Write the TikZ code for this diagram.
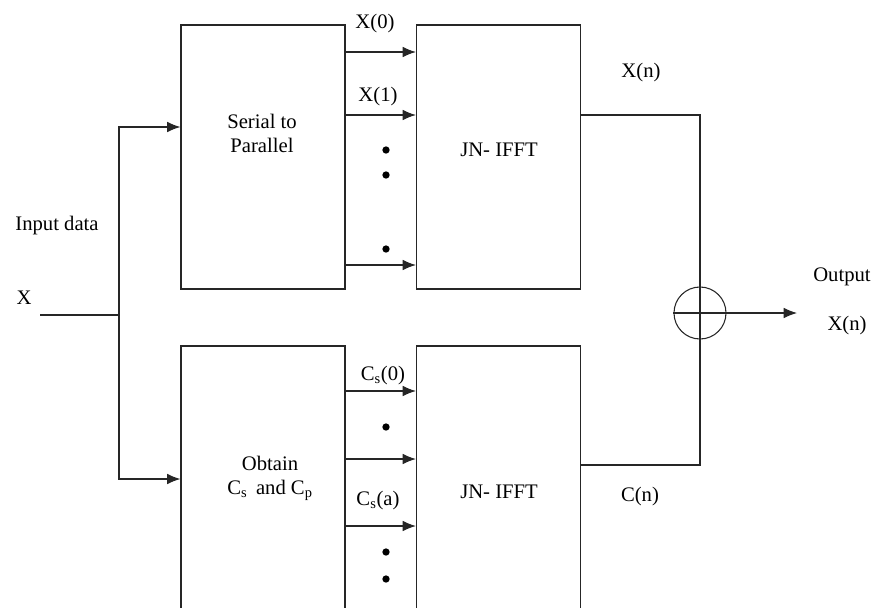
\documentclass[tikz,border=0pt]{standalone}
\usepackage{fontspec}
\setmainfont{Liberation Serif}
\usetikzlibrary{arrows.meta}
\begin{document}
\begin{tikzpicture}[x=0.75pt,y=-0.75pt,
  ln/.style={line width=0.8pt,draw=black!85},
  arr/.style={ln,-{Latex[length=10pt,width=8pt]}},
  blk/.style={draw=black!85,line width=0.9pt,minimum width=123pt,inner sep=0pt},
  lbl/.style={font=\fontsize{15.5}{18}\selectfont,inner sep=1pt},
  dotc/.style={fill=black,circle,inner sep=0pt,minimum size=5.5pt}]
\useasboundingbox (0,0) rectangle (874,607);
\clip (0,0) rectangle (874,607);
% blocks
\node[blk,minimum height=198pt] (s2p) at (263,157) {};
\node[blk,minimum height=198pt] (fft1) at (498.5,157) {};
\node[blk,minimum height=205.5pt] (obt) at (263,483) {};
\node[blk,minimum height=205.5pt] (fft2) at (498.5,483) {};
\node[lbl,align=center] (s2pt) at (262,133) {Serial to\\Parallel};
\node[lbl] (fft1t) at (499,150) {JN- IFFT};
\node[lbl,align=center] (obtt) at (270,478) {Obtain\\C\textsubscript{s}\, and C\textsubscript{p}};
\node[lbl] (fft2t) at (499,492) {JN- IFFT};
% input
\node[lbl] (xlab) at (24,298) {X};
\node[lbl] (inlab) at (57,226) {Input data};
\coordinate (xin) at (40,315);
\coordinate (split) at (119,315);
\draw[ln] (xin) -- (split);
\draw[arr] (split) |- (s2p.west |- 0,127);
\draw[arr] (split) |- (obt.west |- 0,479);
% top parallel lines
\draw[arr] (s2p.east |- 0,52) -- (fft1.west |- 0,52);
\draw[arr] (s2p.east |- 0,115) -- (fft1.west |- 0,115);
\draw[arr] (s2p.east |- 0,265) -- (fft1.west |- 0,265);
\node[lbl] (x0) at (375,24) {X(0)};
\node[lbl] (x1) at (378,97) {X(1)};
\node[dotc] (d1) at (386,150) {};
\node[dotc] (d2) at (386,175) {};
\node[dotc] (d3) at (386,249) {};
% bottom parallel lines
\draw[arr] (obt.east |- 0,391) -- (fft2.west |- 0,391);
\draw[arr] (obt.east |- 0,459) -- (fft2.west |- 0,459);
\draw[arr] (obt.east |- 0,526) -- (fft2.west |- 0,526);
\node[lbl] (c0) at (383,376) {C\textsubscript{s}(0)};
\node[lbl] (ca) at (378,501) {C\textsubscript{s}(a)};
\node[dotc] (d4) at (386,427) {};
\node[dotc] (d5) at (386,552) {};
\node[dotc] (d6) at (386,579) {};
% sum
\node[circle,draw=black!85,line width=0.8pt,minimum size=39pt,inner sep=0pt] (sum) at (700,313) {};
\draw[ln] (fft1.east |- 0,115) -| (sum.north);
\draw[ln] (fft2.east |- 0,465) -| (sum.south);
\draw[ln] (sum.north) -- (sum.south);
\draw[ln] (sum.west) -- (sum.east);
\coordinate (out) at (797,313);
\draw[arr] (sum.east) -- (out);
\node[lbl] (xn) at (641,73) {X(n)};
\node[lbl] (cn) at (640,497) {C(n)};
\node[lbl] (outlab) at (842,277) {Output};
\node[lbl] (xn2) at (847,326) {X(n)};
\end{tikzpicture}
\end{document}
